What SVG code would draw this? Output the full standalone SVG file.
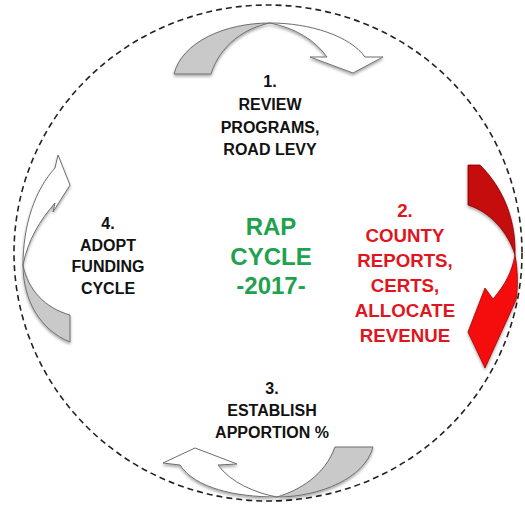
<svg xmlns="http://www.w3.org/2000/svg" width="525" height="506" viewBox="0 0 525 506">
  <style>
    .ring { fill: none; stroke: #222; stroke-width: 1.6; stroke-dasharray: 6 4; }
    .back { fill: #c9c9c9; stroke: #6e6e6e; stroke-width: 1; stroke-linejoin: round; }
    .front { fill: #ffffff; stroke: #6e6e6e; stroke-width: 1; stroke-linejoin: round; }
    .rback { fill: #c50a0a; stroke: #8a0000; stroke-width: 0.8; }
    .rfront { fill: #f50f0f; stroke: #a00000; stroke-width: 0.8; }
    .lbl { font-family: "Liberation Sans", Arial, sans-serif; font-weight: bold; text-anchor: middle; }
    .blk { fill: #111; font-size: 16px; }
    .red { fill: #e0161e; font-size: 18.7px; }
    .grn { fill: #1ea24e; font-size: 24px; }
  </style>
  <defs>
    <filter id="shade" x="-20%" y="-20%" width="140%" height="150%">
      <feGaussianBlur in="SourceAlpha" stdDeviation="1.5"/>
      <feOffset dx="0" dy="2" result="b"/>
      <feComponentTransfer><feFuncA type="linear" slope="0.35"/></feComponentTransfer>
      <feMerge><feMergeNode/><feMergeNode in="SourceGraphic"/></feMerge>
    </filter>
  </defs>

  <!-- dashed cycle ring -->
  <ellipse class="ring" cx="268" cy="253" rx="254" ry="248"/>

  <g id="connectors" filter="url(#shade)">
    <!-- top arrow: step 1 to step 2 -->
    <g id="arrow-top">
      <path class="back" d="M174,74 C182,42 225,23 270,23 C245,28 220,45 211,74 Z"/>
      <path class="front" d="M270,23 C310,23 350,36 365,57 L383,57 L353,73 L310,57 L327,57 C315,40 295,28 270,23 Z"/>
    </g>
    <!-- right arrow: step 2 to step 3 -->
    <g id="arrow-right">
      <path class="rback" d="M468,165 L480,165 C505,190 516,222 515,255 C508,232 490,212 468,205 Z"/>
      <path class="rfront" d="M515,255 C518,270 518,288 516,300 L485,368 L468,332 L485,288 L493,299 C505,285 512,272 515,255 Z"/>
    </g>
    <!-- bottom arrow: step 3 to step 4 -->
    <g id="arrow-bottom">
      <path class="back" d="M373,447 C365,478 320,497 277,497 C300,490 325,475 335,447 Z"/>
      <path class="front" d="M277,497 C235,497 195,488 180,465 L163,463 L195,448 L237,464 L218,465 C230,482 255,493 277,497 Z"/>
    </g>
    <!-- left arrow: step 4 to step 1 -->
    <g id="arrow-left">
      <path class="back" d="M70,342 C40,330 23,300 23,265 C28,290 45,308 70,315 Z"/>
      <path class="front" d="M23,265 C23,225 35,190 55,168 L58,155 L70,185 L53,212 L55,203 C40,220 28,240 23,265 Z"/>
    </g>
  </g>

  <g id="step-1" class="lbl blk">
    <text x="270" y="87">1.</text>
    <text x="270" y="110">REVIEW</text>
    <text x="270" y="133">PROGRAMS,</text>
    <text x="270" y="155">ROAD LEVY</text>
  </g>

  <g id="step-2" class="lbl red">
    <text x="405" y="217">2.</text>
    <text x="405" y="242">COUNTY</text>
    <text x="405" y="267">REPORTS,</text>
    <text x="405" y="292">CERTS,</text>
    <text x="405" y="317">ALLOCATE</text>
    <text x="405" y="342">REVENUE</text>
  </g>

  <g id="step-3" class="lbl blk">
    <text x="272" y="394">3.</text>
    <text x="272" y="416">ESTABLISH</text>
    <text x="272" y="438">APPORTION %</text>
  </g>

  <g id="step-4" class="lbl blk">
    <text x="108" y="229">4.</text>
    <text x="108" y="251">ADOPT</text>
    <text x="108" y="272">FUNDING</text>
    <text x="108" y="294">CYCLE</text>
  </g>

  <g id="center" class="lbl grn">
    <text x="271" y="235">RAP</text>
    <text x="271" y="264.5">CYCLE</text>
    <text x="271" y="293.5">-2017-</text>
  </g>
</svg>
